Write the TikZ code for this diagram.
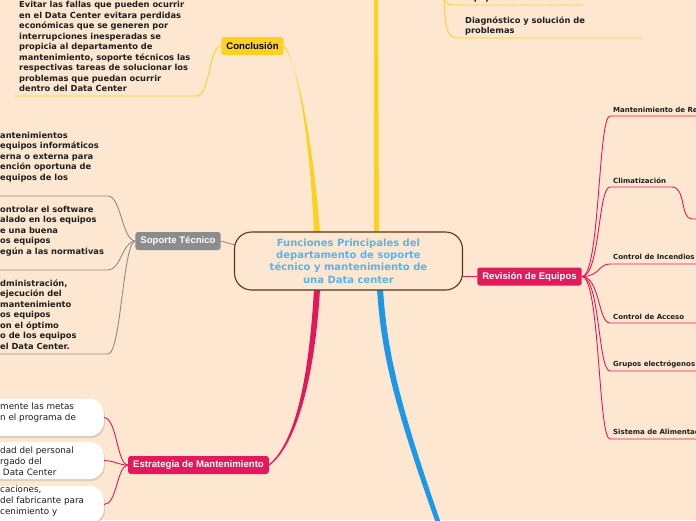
\documentclass[tikz,border=0pt]{standalone}
\usepackage{fontspec}
\setmainfont{DejaVu Sans}
\newfontfamily\arialfont{Liberation Sans}
\usetikzlibrary{calc,positioning,backgrounds,shadows}

\definecolor{bgpeach}{HTML}{FDE7D0}
\definecolor{hubbrown}{HTML}{5E3414}
\definecolor{hubblue}{HTML}{5AB3E6}
\definecolor{mmyellow}{HTML}{FBD21E}
\definecolor{mmpink}{HTML}{E3195B}
\definecolor{mmblue}{HTML}{1D98E6}
\definecolor{mmgray}{HTML}{8C8C8C}
\definecolor{inkdark}{HTML}{1E1E1E}

\begin{document}
\begin{tikzpicture}[x=1pt,y=-1pt,inner sep=0pt,
	hub/.style={draw=hubbrown,line width=1.1pt,fill=bgpeach,rounded corners=17pt,
		minimum width=228pt,minimum height=58pt,align=center,text=hubblue,
		font=\bfseries\fontsize{10}{12.3}\selectfont},
	topic/.style={rounded corners=2.5pt,text=white,inner xsep=5pt,minimum height=18pt,
		font=\arialfont\bfseries\fontsize{9.6}{11}\selectfont},
	body/.style={align=left,anchor=base west,text=inkdark,
		font=\bfseries\fontsize{8.3}{10.45}\selectfont},
	leaf/.style={anchor=base west,text=inkdark,font=\bfseries\fontsize{7}{8}\selectfont},
	bubble/.style={fill=white,rounded corners=14pt,minimum width=150pt,minimum height=37pt,
		anchor=east,drop shadow={shadow xshift=1pt,shadow yshift=-2pt,opacity=0.25}},
	bubbletext/.style={align=left,anchor=base west,text=inkdark,
		font=\fontsize{8.8}{11}\selectfont},
	twig/.style={line width=0.9pt}]

\useasboundingbox (0,0) rectangle (696,520);

% central topic
\node[hub] (hub) at (348.5,261) {Funciones Principales del\\departamento de soporte\\técnico y mantenimiento de\\una Data center};

% main topics
\node[topic,fill=mmyellow,text=black] (concl) at (252.5,46) {Conclusión};
\node[topic,fill=mmgray] (soporte) at (178,241) {Soporte Técnico};
\node[topic,fill=mmpink] (revision) at (529.5,276.5) {Revisión de Equipos};
\node[topic,fill=mmpink] (estrategia) at (198.5,465) {Estrategia de Mantenimiento};

% where the thick branches meet the hub or leave the page
\coordinate (hubY) at (317,232);
\coordinate (hubY2) at (376.5,232);
\coordinate (hubP) at (317,290);
\coordinate (hubB) at (380,290);
\coordinate (topY) at (376,-2);
\coordinate (botB) at (438,522);
\coordinate (topT) at (444,-3);

% texts (placed by the baseline of their last line)
\node[body] (conclT) at (19,91.5) {Evitar las fallas que pueden ocurrir\\en el Data Center evitara perdidas\\económicas que se generen por\\interrupciones inesperadas se\\propicia al departamento de\\mantenimiento, soporte técnicos las\\respectivas tareas de solucionar los\\problemas que puedan ocurrir\\dentro del Data Center};
\node[body] (equiposT) at (465,0.5) {equipos del Data Center};
\node[body] (diagT) at (465,33.5) {Diagnóstico y solución de\\problemas};

\node[body] (mantT) at (0,180) {antenimientos\\equipos informáticos\\erna o externa para\\ención oportuna de\\equipos de los};
\node[body] (softT) at (0,254) {ontrolar el software\\alado en los equipos\\e una buena\\os equipos\\egún a las normativas};
\node[body] (adminT) at (0,349) {dministración,\\ejecución del\\mantenimiento\\os equipos\\on el óptimo\\o de los equipos\\el Data Center.};

\node[leaf] (redesT) at (613,112.5) {Mantenimiento de Re};
\node[leaf] (climaT) at (613,183.5) {Climatización};
\node[leaf] (incendT) at (613,259.5) {Control de Incendios};
\node[leaf] (accesoT) at (613,319.5) {Control de Acceso};
\node[leaf] (gruposT) at (613,366.5) {Grupos electrógenos};
\node[leaf] (alimT) at (613,434.5) {Sistema de Alimentac};

\node[bubble] (metas) at (104,417.5) {};
\node[bubble] (personal) at (104,460.5) {};
\node[bubble] (fabric) at (104,504.5) {};
\node[bubbletext] (metasT) at (0,420) {mente las metas\\n el programa de};
\node[bubbletext] (personalT) at (0,475) {dad del personal\\rgado del\\\ Data Center};
\node[bubbletext] (fabricT) at (0,514) {caciones,\\del fabricante para\\cenimiento y};

\begin{scope}[on background layer]
\fill[bgpeach] (0,0) rectangle (696,520);

% thick branches
\fill[mmyellow] ($(concl.east)+(0,-0.8)$) .. controls (297,59) and (310,140) .. ($(hubY)+(-3,1)$)
	-- ($(hubY)+(3,1)$) .. controls (313,140) and (297,61) .. ($(concl.east)+(0,0.8)$) -- cycle;
\fill[mmyellow] ($(hubY2)+(-2.5,1)$) -- ($(topY)+(-2,0)$) -- ($(topY)+(2,0)$) -- ($(hubY2)+(2.5,1)$) -- cycle;
\fill[mmpink] ($(hubP)+(-3,-1)$) .. controls (310,360) and (299,440) .. ($(estrategia.east)+(0,-0.8)$)
	-- ($(estrategia.east)+(0,0.8)$) .. controls (301,442) and (316,360) .. ($(hubP)+(3,-1)$) -- cycle;
\fill[mmblue] ($(hubB)+(-3,-1)$) .. controls (381,350) and (392,400) .. ($(botB)+(-2.5,0)$)
	-- ($(botB)+(2.5,0)$) .. controls (398,400) and (387,350) .. ($(hubB)+(3,-1)$) -- cycle;

% thin connectors
\draw[twig,mmgray] (soporte.east) -- ($(hub.west)+(1,-16)$);
\draw[twig,mmpink] ($(hub.east)+(-1,15.5)$) -- (revision.west);

\draw[twig,mmyellow] (concl.west) .. controls (209,46) and (210,95) .. (197,96) -- (15,96);
\draw[twig,mmyellow] (topT) .. controls (445,3) and (448,5) .. (454,5) -- (583,5);
\draw[twig,mmyellow] (topT) .. controls (445,30) and (447,38) .. (459,38) -- (643,38);

\draw[twig,mmgray] (soporte.west) .. controls (122,240) and (121,196) .. (108,196) -- (-1,196);
\draw[twig,mmgray] (soporte.west) .. controls (122,242) and (121,270) .. (108,270) -- (-1,270);
\draw[twig,mmgray] (soporte.west) .. controls (123,242) and (121,354) .. (108,354) -- (-1,354);

\draw[twig,mmpink] (estrategia.west) .. controls (117,465) and (117,418) .. (metas.east);
\draw[twig,mmpink] (estrategia.west) .. controls (118,465) and (116,461) .. (personal.east);
\draw[twig,mmpink] (estrategia.west) .. controls (117,465) and (117,505) .. (fabric.east);

\foreach \y in {116,264,323,371,439}
	\draw[twig,mmpink] (revision.east) .. controls (600,276.5) and (598,\y) .. (610,\y) -- (697,\y);
\draw[twig,mmpink] (revision.east) .. controls (600,276.5) and (598,187) .. (610,187) -- (672,187)
	.. controls (686,187) and (680,219) .. (692,219) -- (697,219);
\end{scope}

\end{tikzpicture}
\end{document}
